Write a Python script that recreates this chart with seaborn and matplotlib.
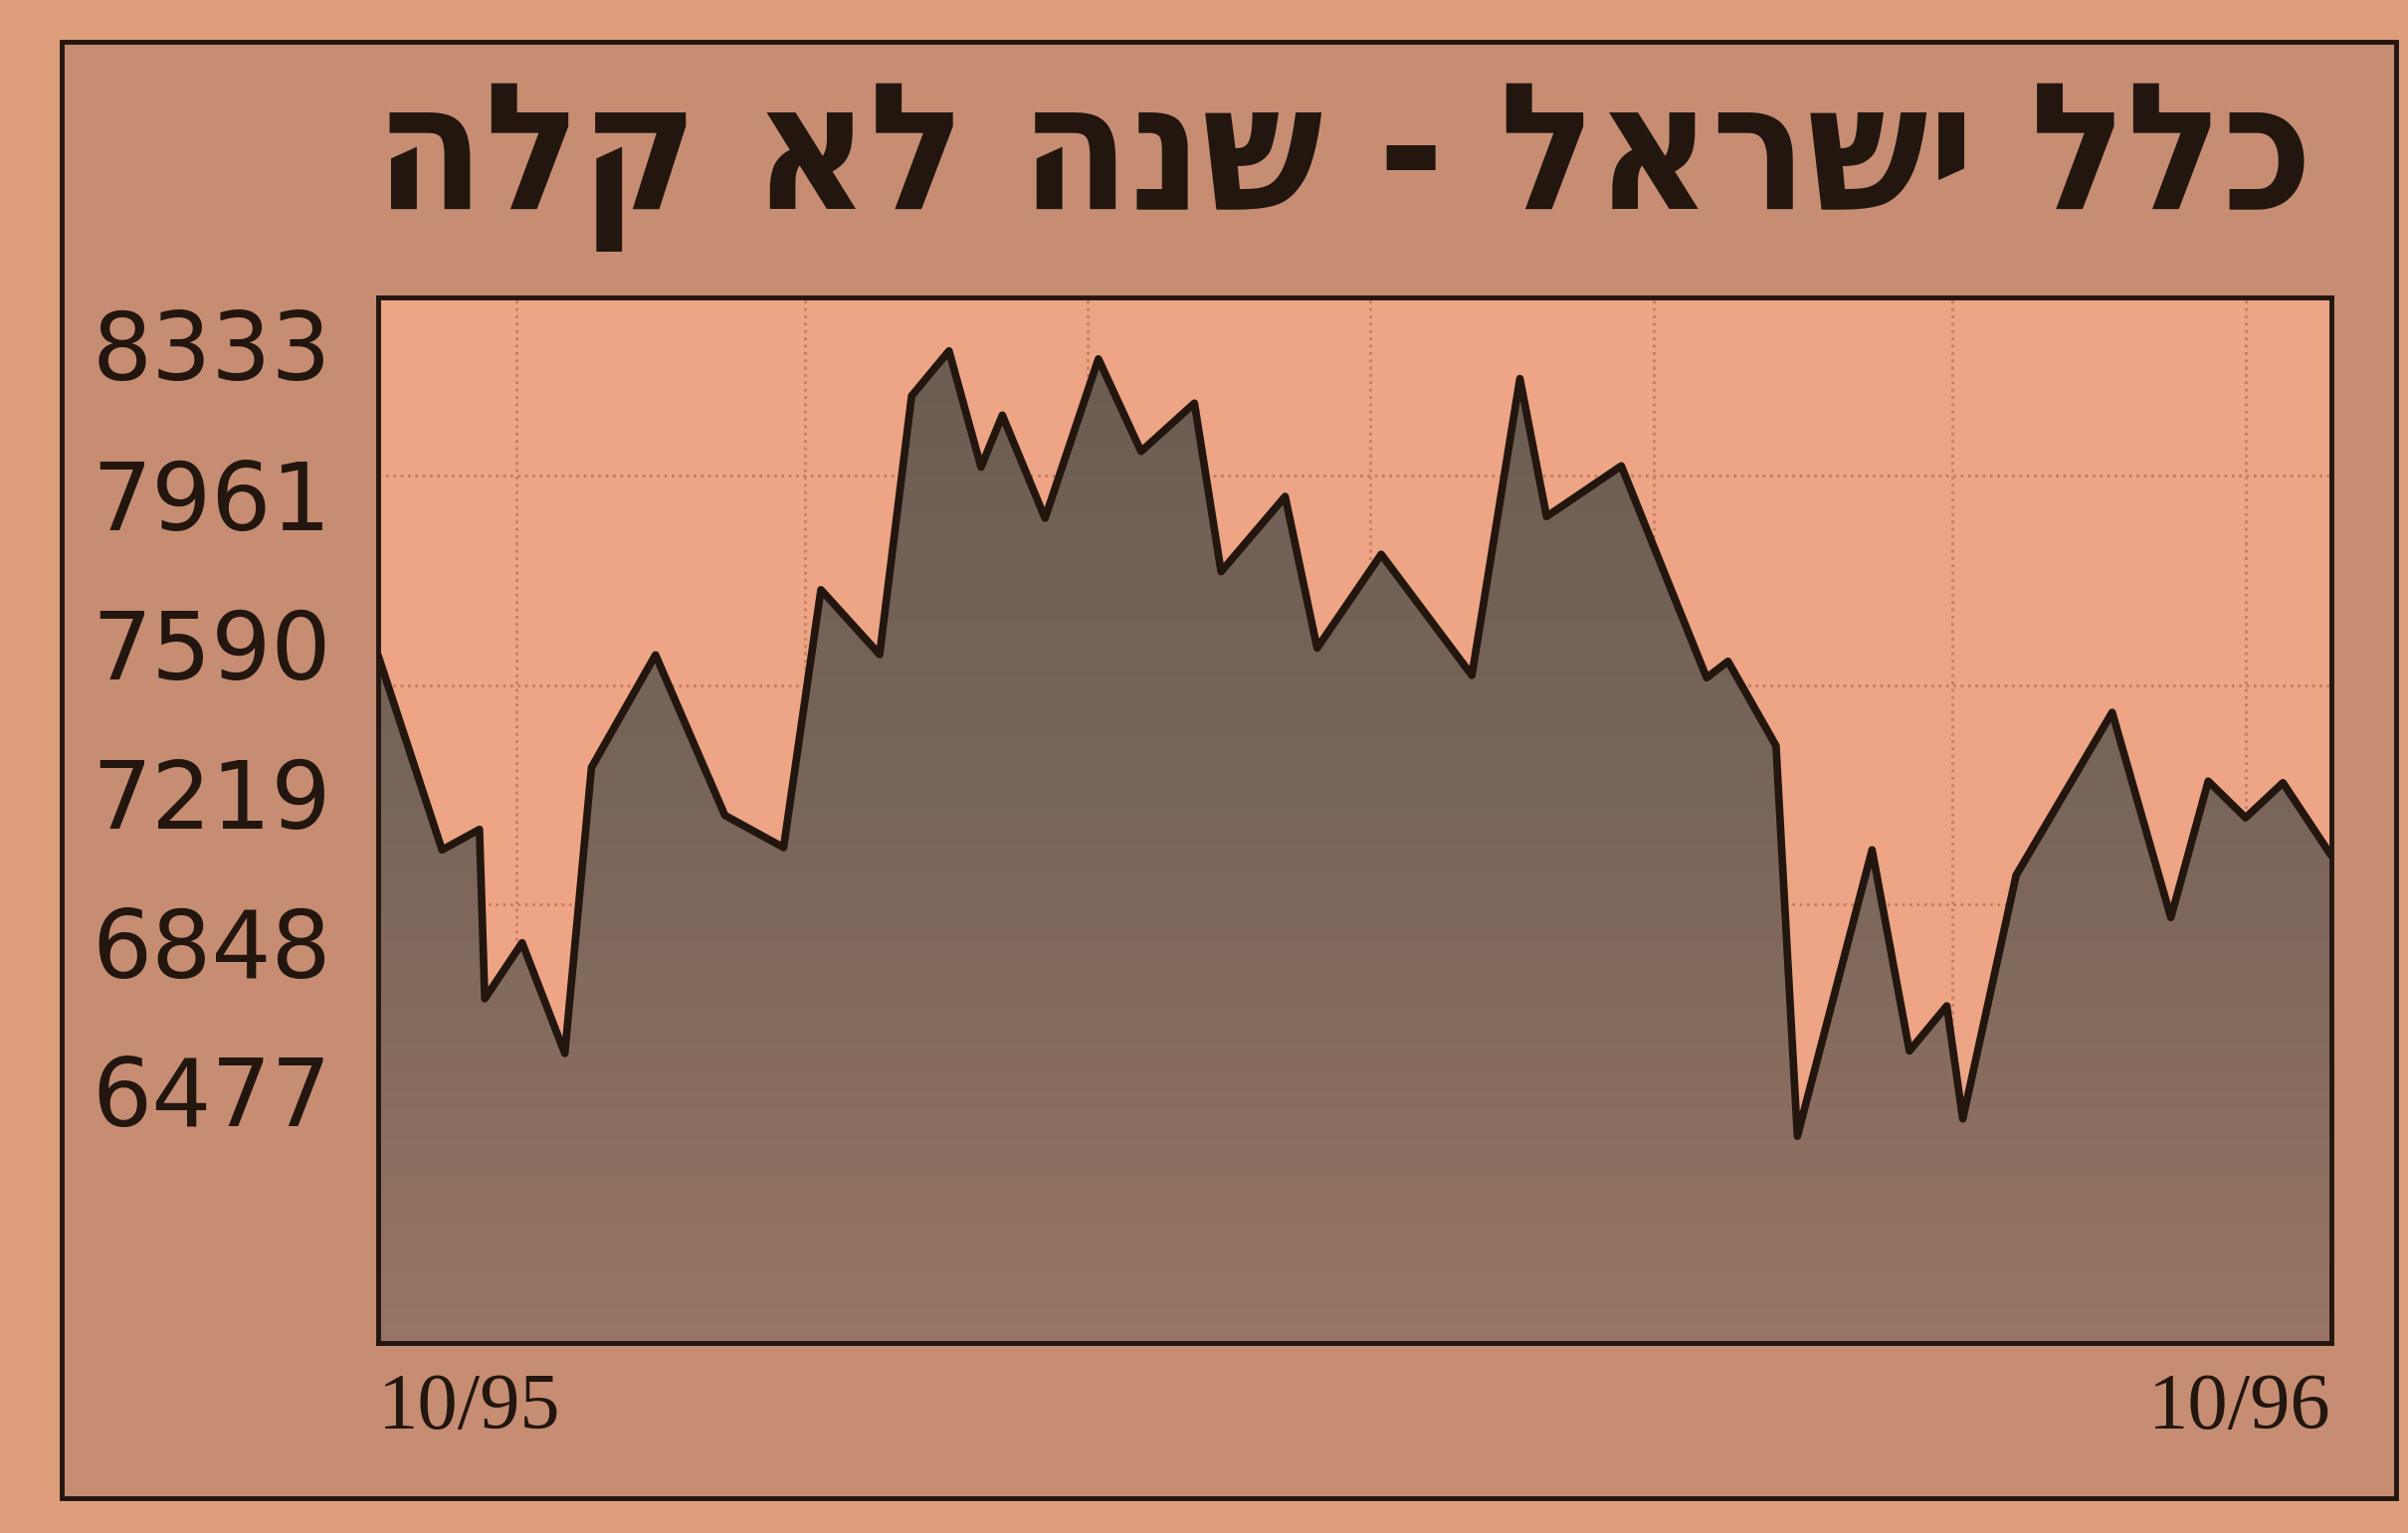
import numpy as np
import matplotlib.pyplot as plt
import matplotlib.patches as mpatches
import seaborn as sns

#%% data: index level, days counted from 10/95
title = 'כלל ישראל - שנה לא קלה'
days = [0, 12, 19, 20, 27, 35, 40, 52, 65, 76, 83, 94, 100, 107, 113, 117, 125,
        135, 143, 153, 158, 170, 176, 188, 205, 214, 219, 233, 249, 253, 262,
        266, 280, 287, 294, 297, 307, 325, 336, 343, 350, 357, 366]
values = [7560, 7076, 7127, 6706, 6845, 6570, 7281, 7561, 7162, 7082, 7723,
          7562, 8205, 8317, 8028, 8157, 7901, 8297, 8067, 8187, 7768, 7955,
          7578, 7811, 7510, 8248, 7905, 8031, 7504, 7545, 7335, 6364, 7076,
          6576, 6688, 6407, 7013, 7418, 6908, 7247, 7156, 7243, 7063]
y_ticks = [8333, 7961, 7590, 7219, 6848, 6477]
x_ticks = [0, 366]
x_labels = ['10/95', '10/96']
grid_x = [26, 80, 133, 186, 239, 295, 350]
grid_y = [8007, 7486, 6942, 6409]
y_lim = (5850, 8450)

#%% colours
paper = '#DE9E7C'
box_bg = '#C68D73'
plot_bg = '#EDA585'
ink = '#22160F'

sns.set_style('white')
fig = plt.figure(figsize=(24.2, 15.41), dpi=100)
fig.patch.set_facecolor(paper)

# outer frame of the newspaper box
outer = mpatches.Rectangle((0.0255, 0.023), 0.9695, 0.950, transform=fig.transFigure,
                           facecolor=box_bg, edgecolor=ink, linewidth=3.5, zorder=-5)
fig.patches.append(outer)

ax = fig.add_axes([0.157, 0.124, 0.811, 0.682])
ax.set_zorder(2)
ax.set_facecolor(plot_bg)

# faint dotted grid
ax.vlines(grid_x, y_lim[0], y_lim[1], colors='#C27D60', linestyles=':', linewidth=2, zorder=1)
ax.hlines(grid_y, 0, 366, colors='#C27D60', linestyles=':', linewidth=2, zorder=1)

# shaded area with a vertical gradient, clipped to the area polygon
poly = ax.fill_between(days, values, y_lim[0], color='none', zorder=2)
grad = np.linspace(0, 1, 256).reshape(-1, 1)
img = ax.imshow(grad, extent=[0, 366, y_lim[0], 8333], origin='upper', aspect='auto',
                cmap=sns.blend_palette(['#6B5D53', '#7A665A', '#987564'], as_cmap=True),
                zorder=2)
img.set_clip_path(poly.get_paths()[0], transform=ax.transData)

sns.lineplot(x=days, y=values, ax=ax, color=ink, linewidth=5.5, zorder=3, sort=False)

ax.set_xlim(0, 366)
ax.set_ylim(*y_lim)
ax.set_yticks(y_ticks)
ax.set_yticklabels([str(v) for v in y_ticks], fontsize=68, family='DejaVu Sans', color=ink)
ax.set_xticks(x_ticks)
ax.set_xticklabels(x_labels, fontsize=58, family='Liberation Serif', color=ink)
xl = ax.get_xticklabels()
xl[0].set_ha('left')
xl[1].set_ha('right')
ax.tick_params(axis='y', length=0, pad=34)
ax.tick_params(axis='x', length=0, pad=22)
ax.set_xlabel('')
ax.set_ylabel('')
for s in ax.spines.values():
    s.set_visible(True)
    s.set_color(ink)
    s.set_linewidth(3.5)

# headline (hebrew, reversed for left-to-right drawing)
fig.text(0.558, 0.892, title[::-1], ha='center', va='center', fontsize=128,
         fontweight='bold', stretch='condensed', family=['DejaVu Sans', 'Liberation Sans'],
         color=ink)

plt.savefig('out.png', dpi=100, facecolor=fig.get_facecolor())
